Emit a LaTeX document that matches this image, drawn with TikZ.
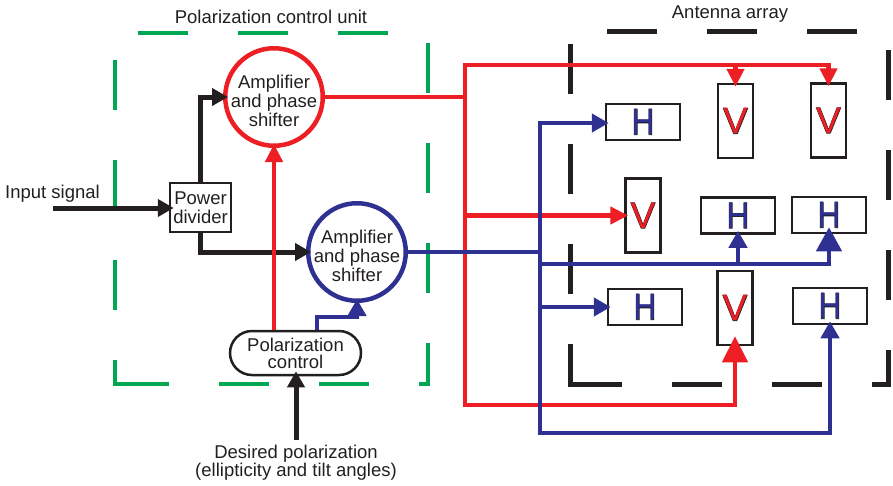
\documentclass[tikz,border=0pt]{standalone}
\usepackage{fontspec}
\setmainfont{Liberation Sans}
\newfontfamily\letterouter[FakeBold=2.2]{Liberation Sans}
\newfontfamily\letterinner{Liberation Sans}
\usepackage{graphicx}
\usetikzlibrary{arrows.meta,calc}
\definecolor{cred}{RGB}{237,30,36}
\definecolor{cblue}{RGB}{46,49,146}
\definecolor{cgreen}{RGB}{0,166,81}
\definecolor{cblack}{RGB}{35,31,32}
\newcommand\OutLetter[2]{\makebox[0pt]{\textcolor{cblack}{\letterouter #2}}\makebox[0pt]{\textcolor{#1}{\letterinner #2}}}
\newcommand\HLetter{\scalebox{0.85}[1]{\OutLetter{cblue}{H}}}
\newcommand\VLetter{\OutLetter{cred}{V}}
\begin{document}
\begin{tikzpicture}[x=1pt,y=-1pt,line join=miter,
  txt/.style={font=\fontsize{18.5}{19}\selectfont,text=cblack,align=center,inner sep=0pt},
  tight/.style={font=\fontsize{18.5}{15.5}\selectfont,text=cblack,align=center,inner sep=0pt},
  amp/.style={circle,line width=4.5pt,minimum size=97.5pt,inner sep=0pt},
  boxline/.style={draw=cblack,line width=2.5pt},
  hbox/.style={boxline,minimum width=74pt,minimum height=36pt,inner sep=0pt,font=\fontsize{37}{37}\selectfont},
  vbox/.style={boxline,minimum width=35pt,minimum height=74pt,inner sep=0pt,font=\fontsize{37}{37}\selectfont},
  blk/.style={draw=cblack,line width=5pt,-{Triangle[length=16pt,width=17pt]},shorten >=-5pt},
  redline/.style={draw=cred,line width=4.5pt},
  redarr/.style={redline,-{Triangle[length=18pt,width=17pt]},shorten >=-4pt},
  blueline/.style={draw=cblue,line width=4.5pt},
  bluearr/.style={blueline,-{Triangle[length=17pt,width=18pt]},shorten >=-4pt},
  gdash/.style={draw=cgreen,line width=4pt,dash pattern=on 50pt off 50pt,dash phase=50pt},
  gsolid/.style={draw=cgreen,line width=4pt},
  kdash/.style={draw=cblack,line width=5pt,dash pattern=on 50pt off 50pt,dash phase=50pt},
  ksolid/.style={draw=cblack,line width=5pt}]
\useasboundingbox (0,0) rectangle (893,485);

% dashed frames
\draw[gdash] (115,360) -- (115,33) -- (428,33) -- (428,384) -- (115,384);
\draw[gsolid] (115,360) -- (115,384) -- (165,384);
\draw[kdash] (570,344) -- (570,31) -- (888,31) -- (888,384) -- (570,384);
\draw[ksolid] (570,344) -- (570,384) -- (620,384);

% titles and labels
\node[txt,anchor=base] (tpcu) at (271,23) {Polarization control unit};
\node[txt,anchor=base] (tant) at (730,18) {Antenna array};
\node[txt,anchor=base west] (tin) at (5,198) {Input signal};

% control unit
\node[txt,boxline,minimum width=61pt,minimum height=49pt] (pd) at (200.5,207.5) {Power\\divider};
\node[amp,draw=cred] (a1) at (274,97) {};
\node[txt] (a1t) at (274,100.5) {Amplifier\\and phase\\shifter};
\node[amp,draw=cblue] (a2) at (357,252) {};
\node[txt] (a2t) at (357,255.5) {Amplifier\\and phase\\shifter};
\node[tight,font=\fontsize{18.5}{17}\selectfont,boxline,rounded corners=22pt,minimum width=131pt,minimum height=44pt] (pc) at (295.5,353) {Polarization\\control};
\node[tight,inner ysep=5pt] (des) at (296,462.8) {Desired polarization\\(ellipticity and tilt angles)};

% antenna elements
\node[hbox] (h11) at (643,122) {\HLetter};
\node[vbox] (v12) at (735.5,121) {\VLetter};
\node[vbox] (v13) at (828.5,120.5) {\VLetter};
\node[vbox] (v21) at (643,215.5) {\VLetter};
\node[hbox] (h22) at (738,215.5) {\HLetter};
\node[hbox] (h23) at (829,215) {\HLetter};
\node[hbox] (h31) at (645,307) {\HLetter};
\node[vbox] (v32) at (735,308) {\VLetter};
\node[hbox] (h33) at (830,306) {\HLetter};

% black connectors
\coordinate (inS) at (53,208);
\draw[blk] (inS) -- (inS -| pd.west);
\draw[blk] (pd.north) |- (a1);
\draw[blk] (pd.south) |- (a2);
\draw[blk] (des.north) -- (des.north |- pc.south);

% control lines
\draw[redarr] (pc.north -| a1) -- (a1);
\coordinate (bt) at (317,317);
\draw[bluearr] (bt |- pc.north) -- (bt) -| (a2);

% red feed
\coordinate (rT) at (465,65);
\coordinate (rB) at (465,405);
\draw[redline] (a1) -- (a1 -| rT);
\draw[redarr] (rB) -- (rT) -| (v13);
\draw[redarr] (rT -| v12) -- (v12);
\draw[redarr] (rT |- v21) -- (v21);
\draw[redline,-{Triangle[length=26pt,width=25pt]},shorten >=-10pt] (rT) -- (rB) -| (v32);

% blue feed
\coordinate (bT) at (540,123);
\coordinate (bB) at (540,433);
\coordinate (bM) at (540,264);
\draw[blueline] (a2) -- (a2 -| bT);
\draw[bluearr] (bB) -- (bT) -- (bT -| h11.west);
\draw[bluearr] (bT) -- (bB) -| (h33);
\draw[blueline,-{Triangle[length=24pt,width=25pt]},shorten >=-7pt] (bM) -| (h23);
\draw[bluearr] (bM -| h22) -- (h22);
\draw[bluearr] (bT |- h31) -- (h31);
\end{tikzpicture}
\end{document}
